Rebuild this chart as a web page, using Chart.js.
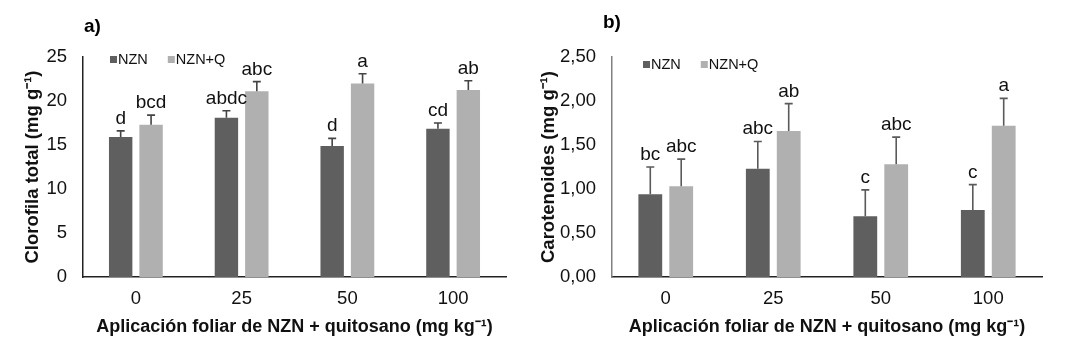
<!DOCTYPE html>
<html>
<head>
<meta charset="utf-8">
<script src="https://cdn.jsdelivr.net/npm/chart.js@4"></script>
<style>
  html, body { margin: 0; padding: 0; background: #fff; }
  body { width: 1075px; height: 358px; position: relative; overflow: hidden; }
  .box { position: absolute; top: 0; height: 358px; }
  #boxA { left: 0; width: 535px; }
  #boxB { left: 535px; width: 540px; }
</style>
</head>
<body>
<div class="box" id="boxA"><canvas id="chartA"></canvas></div>
<div class="box" id="boxB"><canvas id="chartB"></canvas></div>
<script>
const categories = ['0', '25', '50', '100'];
const seriesNames = ['NZN', 'NZN+Q'];

// a) Clorofila total
const chlNZN    = [15.9, 18.1, 14.9, 16.85];
const chlNZNQ   = [17.3, 21.1, 22.0, 21.25];
const chlErrNZN = [0.7, 0.8, 0.85, 0.65];
const chlErrQ   = [1.1, 1.1, 1.1, 1.05];
const chlLetNZN = ['d', 'abdc', 'd', 'cd'];
const chlLetQ   = ['bcd', 'abc', 'a', 'ab'];

// b) Carotenoides
const carNZN    = [0.94, 1.23, 0.69, 0.76];
const carNZNQ   = [1.03, 1.66, 1.28, 1.72];
const carErrNZN = [0.31, 0.31, 0.30, 0.29];
const carErrQ   = [0.31, 0.31, 0.31, 0.31];
const carLetNZN = ['bc', 'abc', 'c', 'c'];
const carLetQ   = ['abc', 'ab', 'abc', 'a'];

const DARK = '#5f5f5f';
const LIGHT = '#b0b0b0';
const FONT = "'Liberation Sans', Arial, sans-serif";

Chart.defaults.font.family = FONT;
Chart.defaults.color = '#111';

// error bars (upper only) + letters above them
const errorLabels = {
    id: 'errorLabels',
    afterDatasetsDraw(chart, args, opts) {
        const ctx = chart.ctx;
        const y = chart.scales.y;
        chart.data.datasets.forEach((ds, i) => {
            const meta = chart.getDatasetMeta(i);
            meta.data.forEach((bar, j) => {
                const top = y.getPixelForValue(ds.data[j] + ds.errors[j]);
                ctx.save();
                ctx.strokeStyle = opts.color;
                ctx.lineWidth = 1.6;
                ctx.beginPath();
                ctx.moveTo(bar.x, bar.y);
                ctx.lineTo(bar.x, top);
                ctx.moveTo(bar.x - 4, top);
                ctx.lineTo(bar.x + 4, top);
                ctx.stroke();
                ctx.fillStyle = '#111';
                ctx.font = '19px ' + FONT;
                ctx.textAlign = 'center';
                ctx.textBaseline = 'alphabetic';
                ctx.fillText(ds.letters[j], bar.x, top - 7);
                ctx.restore();
            });
        });
    }
};

// legend + panel tag drawn at fixed spots
const legendTag = {
    id: 'legendTag',
    afterDraw(chart, args, opts) {
        const ctx = chart.ctx;
        ctx.save();
        ctx.font = 'bold 19px ' + FONT;
        ctx.fillStyle = '#000';
        ctx.textBaseline = 'middle';
        ctx.fillText(opts.tag, opts.tagX, opts.tagY);

        ctx.font = '14.5px ' + FONT;
        let x = opts.legX;
        chart.data.datasets.forEach((ds) => {
            ctx.fillStyle = ds.backgroundColor;
            ctx.fillRect(x, opts.legY - 4, 7, 7);
            ctx.fillStyle = '#111';
            ctx.fillText(ds.label, x + 8, opts.legY);
            x += 8 + ctx.measureText(ds.label).width + 20;
        });
        ctx.restore();
    }
};

function makeChart(id, cfg) {
    return new Chart(document.getElementById(id), {
        type: 'bar',
        data: {
            labels: categories,
            datasets: [
                { label: seriesNames[0], data: cfg.a, errors: cfg.ea, letters: cfg.la,
                  backgroundColor: DARK, categoryPercentage: 0.575, barPercentage: 0.77 },
                { label: seriesNames[1], data: cfg.b, errors: cfg.eb, letters: cfg.lb,
                  backgroundColor: LIGHT, categoryPercentage: 0.575, barPercentage: 0.77 },
            ],
        },
        options: {
            responsive: true,
            maintainAspectRatio: false,
            animation: false,
            layout: { padding: { top: 57, right: cfg.padRight, left: 0, bottom: 0 } },
            plugins: {
                legend: { display: false },
                tooltip: { enabled: false },
                errorLabels: { color: cfg.errColor },
                legendTag: cfg.legend,
            },
            scales: {
                x: {
                    grid: { display: false, drawTicks: false },
                    border: { display: true, color: '#222', width: 1.5 },
                    ticks: { font: { size: 18.5 }, color: '#111', padding: 11 },
                    title: { display: true, text: 'Aplicación foliar de NZN + quitosano (mg kg⁻¹)',
                             font: { size: 18, weight: 'bold' }, color: '#111', padding: { top: 0, bottom: 20 } },
                    afterFit(s) { s.height = 81; },
                },
                y: {
                    min: 0, max: cfg.max,
                    grid: { display: false, drawTicks: false },
                    border: { display: true, color: cfg.axisColor, width: 1.5 },
                    ticks: { stepSize: cfg.step, font: { size: 18.5 }, color: '#111', padding: 16,
                             callback: cfg.fmt },
                    title: { display: true, text: cfg.ytitle, font: { size: 18.5, weight: 'bold' },
                             color: '#111', padding: { top: cfg.yTitlePad, bottom: 0 } },
                    afterFit(s) { s.width = cfg.yWidth; },
                },
            },
        },
        plugins: [errorLabels, legendTag],
    });
}

makeChart('chartA', {
    a: chlNZN, b: chlNZNQ, ea: chlErrNZN, eb: chlErrQ, la: chlLetNZN, lb: chlLetQ,
    max: 25, step: 5, fmt: (v) => String(v),
    ytitle: 'Clorofila total (mg g⁻¹)', yWidth: 83, yTitlePad: 22, padRight: 29,
    errColor: '#444', axisColor: '#222',
    legend: { tag: 'a)', tagX: 84, tagY: 27, legX: 110, legY: 60 },
});

makeChart('chartB', {
    a: carNZN, b: carNZNQ, ea: carErrNZN, eb: carErrQ, la: carLetNZN, lb: carLetQ,
    max: 2.5, step: 0.5, fmt: (v) => v.toFixed(2).replace('.', ','),
    ytitle: 'Carotenoides (mg g⁻¹)', yWidth: 77, yTitlePad: 3, padRight: 33,
    errColor: '#5a5a5a', axisColor: '#808080',
    legend: { tag: 'b)', tagX: 68, tagY: 23, legX: 108, legY: 65 },
});
</script>
</body>
</html>
